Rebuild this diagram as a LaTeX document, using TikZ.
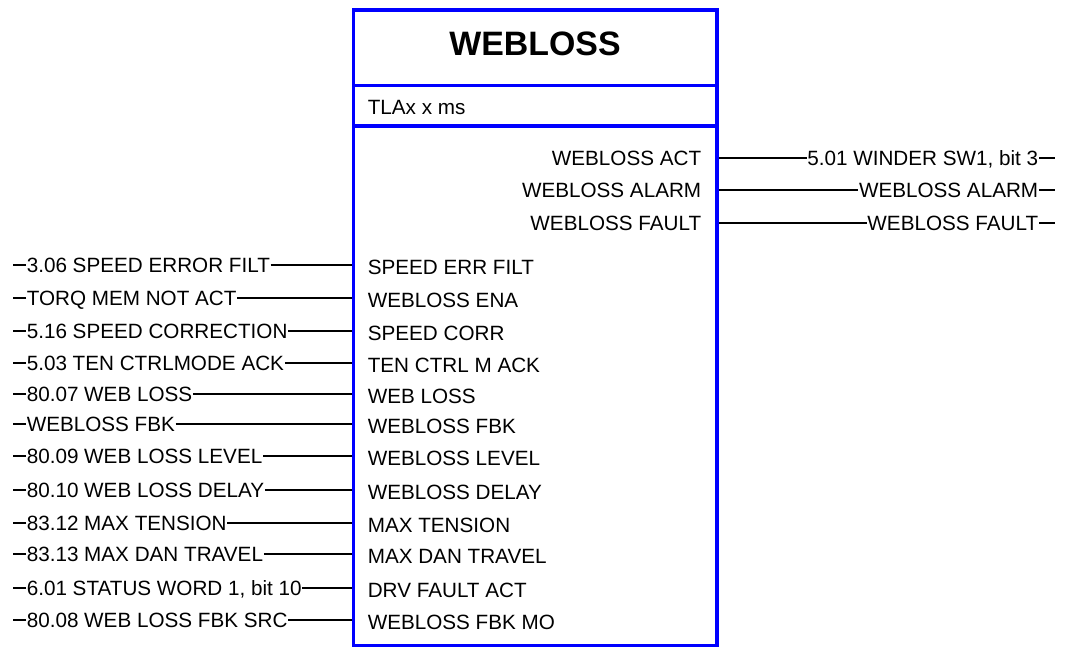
\documentclass[tikz,border=0pt]{standalone}
\usepackage{fontspec}
\setmainfont{Liberation Sans}
\usepackage{tikz}

\begin{document}
\begin{tikzpicture}[x=0.75pt, y=-0.75pt,
	blockline/.style={draw=blue, line width=2.6pt},
	wire/.style={draw=black, line width=1.5pt},
	sig/.style={inner sep=0.6pt, outer sep=0pt, text height=11.1pt, text depth=0pt, font=\fontsize{15.5pt}{18pt}\selectfont}]
	\useasboundingbox (0,0) rectangle (1068,647);
	\coordinate (mainW) at (353.5,126);
	\coordinate (mainE) at (717,126);

	\node[font=\fontsize{25.4pt}{30pt}\selectfont\bfseries, inner sep=0pt, anchor=base] at (535,55)(title){WEBLOSS};
	\node[sig, anchor=west] at (367,107)(rate){TLAx x ms};

	\node[sig, anchor=east] at (702,158)(out1){WEBLOSS ACT};
	\node[sig, anchor=east] at (702,190)(out2){WEBLOSS ALARM};
	\node[sig, anchor=east] at (702,223)(out3){WEBLOSS FAULT};
	\node[sig, anchor=east] at (1039,158)(dst1){5.01 WINDER SW1, bit 3};
	\node[sig, anchor=east] at (1039,190)(dst2){WEBLOSS ALARM};
	\node[sig, anchor=east] at (1039,223)(dst3){WEBLOSS FAULT};
	\draw[wire](out1 -| mainE) -- (dst1.west);
	\draw[wire](out2 -| mainE) -- (dst2.west);
	\draw[wire](out3 -| mainE) -- (dst3.west);
	\draw[wire](dst1.east) -- ++(16,0);
	\draw[wire](dst2.east) -- ++(16,0);
	\draw[wire](dst3.east) -- ++(16,0);

	\node[sig, anchor=west] at (26,265)(src1){3.06 SPEED ERROR FILT};
	\node[sig, anchor=west] at (26,298)(src2){TORQ MEM NOT ACT};
	\node[sig, anchor=west] at (26,331)(src3){5.16 SPEED CORRECTION};
	\node[sig, anchor=west] at (26,363)(src4){5.03 TEN CTRLMODE ACK};
	\node[sig, anchor=west] at (26,394)(src5){80.07 WEB LOSS};
	\node[sig, anchor=west] at (26,424)(src6){WEBLOSS FBK};
	\node[sig, anchor=west] at (26,456)(src7){80.09 WEB LOSS LEVEL};
	\node[sig, anchor=west] at (26,490)(src8){80.10 WEB LOSS DELAY};
	\node[sig, anchor=west] at (26,523)(src9){83.12 MAX TENSION};
	\node[sig, anchor=west] at (26,554)(src10){83.13 MAX DAN TRAVEL};
	\node[sig, anchor=west] at (26,588)(src11){6.01 STATUS WORD 1, bit 10};
	\node[sig, anchor=west] at (26,620)(src12){80.08 WEB LOSS FBK SRC};

	\node[sig, anchor=west] at (367,267)(in1){SPEED ERR FILT};
	\node[sig, anchor=west] at (367,300)(in2){WEBLOSS ENA};
	\node[sig, anchor=west] at (367,333)(in3){SPEED CORR};
	\node[sig, anchor=west] at (367,365)(in4){TEN CTRL M ACK};
	\node[sig, anchor=west] at (367,396)(in5){WEB LOSS};
	\node[sig, anchor=west] at (367,426)(in6){WEBLOSS FBK};
	\node[sig, anchor=west] at (367,458)(in7){WEBLOSS LEVEL};
	\node[sig, anchor=west] at (367,492)(in8){WEBLOSS DELAY};
	\node[sig, anchor=west] at (367,525)(in9){MAX TENSION};
	\node[sig, anchor=west] at (367,556)(in10){MAX DAN TRAVEL};
	\node[sig, anchor=west] at (367,590)(in11){DRV FAULT ACT};
	\node[sig, anchor=west] at (367,622)(in12){WEBLOSS FBK MO};

	\draw[wire](src1.west) -- ++(-13,0) (src1.east) -- (src1 -| mainW);
	\draw[wire](src2.west) -- ++(-13,0) (src2.east) -- (src2 -| mainW);
	\draw[wire](src3.west) -- ++(-13,0) (src3.east) -- (src3 -| mainW);
	\draw[wire](src4.west) -- ++(-13,0) (src4.east) -- (src4 -| mainW);
	\draw[wire](src5.west) -- ++(-13,0) (src5.east) -- (src5 -| mainW);
	\draw[wire](src6.west) -- ++(-13,0) (src6.east) -- (src6 -| mainW);
	\draw[wire](src7.west) -- ++(-13,0) (src7.east) -- (src7 -| mainW);
	\draw[wire](src8.west) -- ++(-13,0) (src8.east) -- (src8 -| mainW);
	\draw[wire](src9.west) -- ++(-13,0) (src9.east) -- (src9 -| mainW);
	\draw[wire](src10.west) -- ++(-13,0) (src10.east) -- (src10 -| mainW);
	\draw[wire](src11.west) -- ++(-13,0) (src11.east) -- (src11 -| mainW);
	\draw[wire](src12.west) -- ++(-13,0) (src12.east) -- (src12 -| mainW);

	\draw[blockline](353.5,10) rectangle (717,85.5);
	\draw[blockline](353.5,85.5) rectangle (717,126);
	\draw[blockline](mainW) rectangle (717,645.5);
\end{tikzpicture}
\end{document}
